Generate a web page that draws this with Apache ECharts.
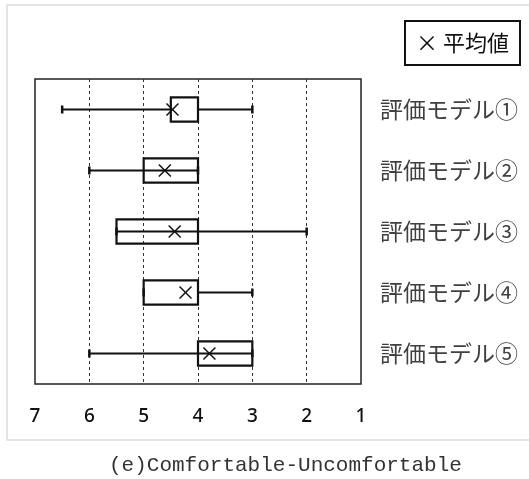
<!DOCTYPE html>
<html>
<head>
<meta charset="utf-8">
<script src="https://cdn.jsdelivr.net/npm/echarts@6/dist/echarts.min.js"></script>
<style>
  html, body { margin: 0; padding: 0; background: #fff; }
  #chart { width: 529px; height: 479px; }
</style>
</head>
<body>
<div id="chart"></div>
<script>
// Evaluation models (top to bottom)
const categories = ['評価モデル①', '評価モデル②', '評価モデル③', '評価モデル④', '評価モデル⑤'];
// Score scale 7 (left) to 1 (right)
const tickValues = [7, 6, 5, 4, 3, 2, 1];
// Whisker ends
const minVals = [6.5, 6, 5.5, 5, 6];
const maxVals = [3, 4, 2, 3, 3];
// Box edges (higher score / lower score)
const q1Vals = [4.5, 5, 5.5, 5, 4];
const q3Vals = [4, 4, 4, 4, 3];
// Where the lower whisker line stops
const lowerEnds = [4.5, 4, 4, 5, 3];
// Mean values (× markers)
const meanVals = [4.47, 4.61, 4.43, 4.23, 3.79];

const rows = categories.map((c, i) => [i, minVals[i], q1Vals[i], q3Vals[i], maxVals[i], lowerEnds[i], meanVals[i]]);

const INK = '#111';

function renderItem(params, api) {
  const idx = api.value(0);
  const p = v => api.coord([v, idx]);
  const band = api.size([0, 1])[1];
  const boxH = band * 0.4;
  const capH = 8;
  const xs = 6;
  const pMin = p(api.value(1)), pQ1 = p(api.value(2)), pQ3 = p(api.value(3));
  const pMax = p(api.value(4)), pLow = p(api.value(5)), pMean = p(api.value(6));
  const y = pMin[1];
  const seg = (x1, y1, x2, y2, w) => ({
    type: 'line',
    shape: { x1, y1, x2, y2 },
    style: { stroke: INK, lineWidth: w || 2 }
  });
  const left = Math.min(pQ1[0], pQ3[0]);
  const right = Math.max(pQ1[0], pQ3[0]);
  return {
    type: 'group',
    children: [
      seg(pMin[0], y, pLow[0], y),
      seg(pQ3[0], y, pMax[0], y),
      seg(pMin[0], y - capH / 2, pMin[0], y + capH / 2, 2.5),
      seg(pMax[0], y - capH / 2, pMax[0], y + capH / 2, 2.5),
      {
        type: 'rect',
        shape: { x: left, y: y - boxH / 2, width: right - left, height: boxH },
        style: { stroke: INK, lineWidth: 2.2, fill: 'rgba(0,0,0,0)' }
      },
      seg(pMean[0] - xs, y - xs, pMean[0] + xs, y + xs, 1.5),
      seg(pMean[0] - xs, y + xs, pMean[0] + xs, y - xs, 1.5)
    ]
  };
}

const chart = echarts.init(document.getElementById('chart'), null, { renderer: 'canvas' });
chart.setOption({
  backgroundColor: '#fff',
  animation: false,
  title: {
    text: '(e)Comfortable-Uncomfortable',
    left: 104,
    top: 450,
    textStyle: { fontFamily: '"Liberation Mono", "Courier New", monospace', fontSize: 21, fontWeight: 'normal', color: '#333' }
  },
  graphic: [
    {
      type: 'rect',
      shape: { x: 7, y: 5, width: 540, height: 435 },
      style: { fill: null, stroke: '#dcdcdc', lineWidth: 1.5 },
      z: -1
    },
    {
      type: 'group',
      left: 404,
      top: 20,
      children: [
        {
          type: 'rect',
          shape: { x: 0, y: 0, width: 115, height: 44 },
          style: { fill: '#fff', stroke: INK, lineWidth: 2 }
        },
        {
          type: 'text',
          x: 57.5,
          y: 22,
          style: {
            text: '× 平均値',
            align: 'center',
            verticalAlign: 'middle',
            fontFamily: 'Noto Sans CJK JP',
            fontSize: 22,
            fill: INK
          }
        }
      ]
    }
  ],
  grid: {
    left: 35,
    top: 79,
    width: 326,
    height: 305,
    show: true,
    borderColor: '#222',
    borderWidth: 1.5,
    backgroundColor: 'transparent'
  },
  xAxis: {
    type: 'value',
    min: 1,
    max: 7,
    interval: 1,
    inverse: true,
    axisLine: { show: false },
    axisTick: { show: false },
    axisLabel: {
      margin: 23,
      fontFamily: 'Noto Sans',
      fontSize: 19,
      fontWeight: 500,
      color: '#111',
      formatter: v => (tickValues.indexOf(v) >= 0 ? String(v) : '')
    },
    splitLine: {
      show: true,
      showMinLine: false,
      showMaxLine: false,
      lineStyle: { color: '#333', width: 1, type: [3, 3] }
    }
  },
  yAxis: {
    type: 'category',
    data: categories,
    inverse: true,
    position: 'right',
    axisLine: { show: false },
    axisTick: { show: false },
    splitLine: { show: false },
    axisLabel: {
      margin: 19,
      fontFamily: 'Noto Sans CJK JP',
      fontSize: 23,
      color: '#404040'
    }
  },
  series: [
    {
      type: 'custom',
      renderItem: renderItem,
      data: rows,
      encode: { x: [1, 2, 3, 4, 5, 6], y: 0 },
      clip: false
    }
  ]
});
</script>
</body>
</html>
